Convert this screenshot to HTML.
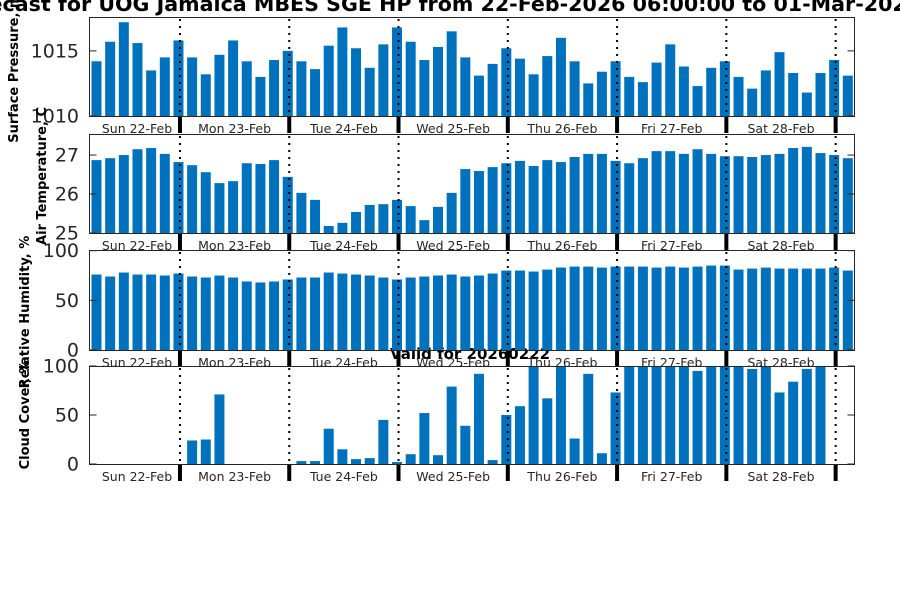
<!DOCTYPE html>
<html><head><meta charset="utf-8">
<style>
html,body{margin:0;padding:0;background:#fff;width:900px;height:600px;overflow:hidden}
svg{display:block;font-family:"DejaVu Sans","Liberation Sans",sans-serif}
</style></head>
<body>
<svg id="chart" width="900" height="600" viewBox="0 0 900 600" xmlns="http://www.w3.org/2000/svg">
<text x="-49" y="11" font-size="20.6" font-weight="bold" fill="#000">Forecast for UOG Jamaica MBES SGE HP from 22-Feb-2026 06:00:00 to 01-Mar-2026 06:00:00</text>
<text x="470" y="359" font-size="15" font-weight="bold" text-anchor="middle" fill="#000">Valid for 20260222</text>
</svg>
<script>
const days = ["Sun 22-Feb","Mon 23-Feb","Tue 24-Feb","Wed 25-Feb","Thu 26-Feb","Fri 27-Feb","Sat 28-Feb"];
const pressure = [1014.2,1015.7,1017.2,1015.6,1013.5,1014.5,1015.8,1014.5,1013.2,1014.7,1015.8,1014.2,1013.0,1014.3,1015.0,1014.2,1013.6,1015.4,1016.8,1015.2,1013.7,1015.5,1016.8,1015.7,1014.3,1015.3,1016.5,1014.5,1013.1,1014.0,1015.2,1014.4,1013.2,1014.6,1016.0,1014.2,1012.5,1013.4,1014.2,1013.0,1012.6,1014.1,1015.5,1013.8,1012.3,1013.7,1014.2,1013.0,1012.1,1013.5,1014.9,1013.3,1011.8,1013.3,1014.3,1013.1];
const temperature = [26.87,26.92,27.0,27.15,27.18,27.03,26.82,26.74,26.56,26.28,26.33,26.79,26.77,26.87,26.44,26.03,25.85,25.18,25.26,25.54,25.72,25.74,25.85,25.69,25.33,25.67,26.03,26.64,26.59,26.69,26.79,26.85,26.72,26.87,26.82,26.95,27.03,27.03,26.85,26.79,26.92,27.1,27.1,27.03,27.15,27.03,26.97,26.97,26.95,27.0,27.03,27.18,27.21,27.05,27.0,26.92];
const humidity = [76,74,78,76,76,75,77,74,73,75,73,69,68,69,71,73,73,78,77,76,75,73,71,73,74,75,76,74,75,77,80,80,79,81,83,84,84,83,84,84,84,83,84,83,84,85,85,81,82,83,82,82,82,82,83,80];
const cloud = [0,0,0,0,0,0,0,24,25,71,0,0,0,0,0,3,3,36,15,5,6,45,2,10,52,9,79,39,92,4,50,59,100,67,100,26,92,11,73,100,100,100,100,100,95,100,100,100,97,100,73,84,97,100,0,0];
const panels = [
  {name:"surface-pressure", data:pressure, min:1010, max:1017.6, ticks:[1010,1015], top:17, bottom:116, label:"Surface Pressure, mb", lx:18, ly:64},
  {name:"air-temperature", data:temperature, min:25, max:27.54, ticks:[25,26,27], top:134, bottom:233, label:"Air Temperature, C", lx:46, ly:176},
  {name:"relative-humidity", data:humidity, min:0, max:100.7, ticks:[0,50,100], top:250, bottom:350, label:"Relative Humidity, %", lx:29, ly:312},
  {name:"cloud-cover", data:cloud, min:0, max:100, ticks:[0,50,100], top:366, bottom:464, label:"Cloud Cover, %", lx:29, ly:415}
];
const NS = "http://www.w3.org/2000/svg";
const svg = document.getElementById("chart");
const X0 = 89.5, X1 = 854.5;
function xPos(i){ return 96.5 + i*13.66; }
function mk(tag, attrs, parent){
  const e = document.createElementNS(NS, tag);
  for (const k in attrs) e.setAttribute(k, attrs[k]);
  (parent||svg).appendChild(e);
  return e;
}
panels.forEach((p, pi) => {
  const g = mk("g", {});
  
  
  const yPos = v => p.bottom - (v - p.min) / (p.max - p.min) * (p.bottom - p.top);
  p.data.forEach((v, i) => {
    const y = Math.max(yPos(v), p.top);
    const h = p.bottom - y;
    if (h <= 0) return;
    const r = mk("rect", {x: xPos(i) - 5, y: y, width: 10, height: h, fill: "#0072bd"}, g);
    
    
  });
  for (let d = 0; d < 7; d++) {
    const sx = xPos(6 + d*8) + 1.5;
    const l = mk("line", {x1: sx, x2: sx, y1: p.top + 2, y2: p.bottom, stroke: "#000", "stroke-width": 2, "stroke-dasharray": "2,5"}, g);
    
    
    const t = mk("rect", {x: sx - 2, y: p.bottom, width: 4, height: 17, fill: "#000"}, g);
    
    
  }
  days.forEach((dname, d) => {
    const cx = (d === 0) ? 137 : xPos(6 + d*8 - 4) + 1.5;
    const t = mk("text", {x: cx, y: p.bottom + 17, "font-size": 12.5, "text-anchor": "middle", fill: "#262626"}, g);
    t.textContent = dname;
    
    
  });
  const b = mk("rect", {x: X0, y: p.top + 0.5, width: X1 - X0, height: p.bottom - p.top, fill: "none", stroke: "#262626", "stroke-width": 1}, g);
  
  
  p.ticks.forEach(tv => {
    const y = yPos(tv);
    mk("line", {x1: X0, x2: X0 + 7, y1: y, y2: y, stroke: "#262626"}, g);
    mk("line", {x1: X1 - 7, x2: X1, y1: y, y2: y, stroke: "#262626"}, g);
    const t = mk("text", {x: 79, y: y + 6.5, "font-size": 19, "text-anchor": "end", fill: "#262626"}, g);
    t.textContent = tv;
    
    
  });
  const yl = mk("text", {x: p.lx, y: p.ly, "font-size": 13, "font-weight": "bold", "text-anchor": "middle", fill: "#000", transform: "rotate(-90 " + p.lx + " " + p.ly + ")"}, g);
  yl.textContent = p.label;
  
  
});
</script>
</body></html>
